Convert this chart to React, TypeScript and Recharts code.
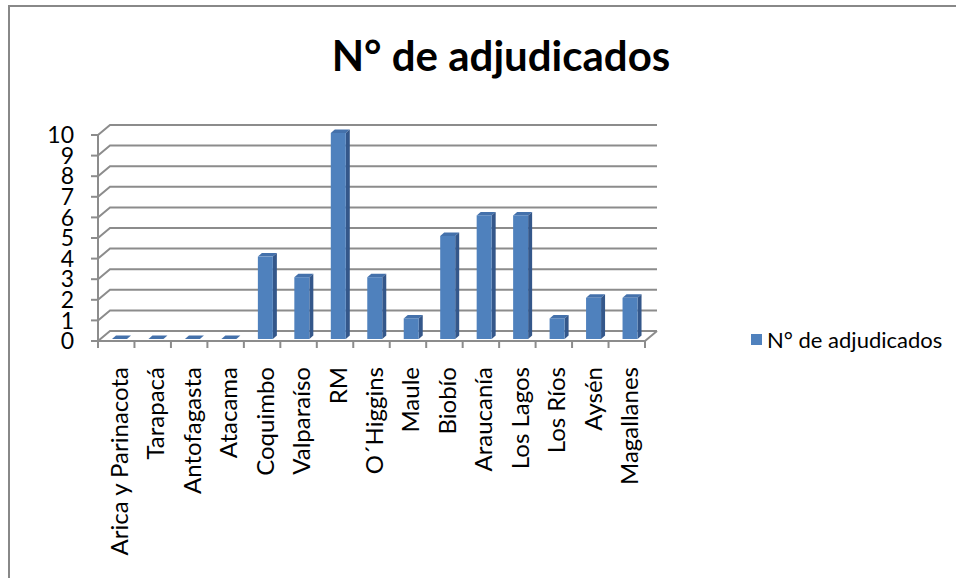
import React from 'react';
import { BarChart, Bar, XAxis, YAxis, CartesianGrid, Legend } from 'recharts';

const categories = [
  'Arica y Parinacota',
  'Tarapacá',
  'Antofagasta',
  'Atacama',
  'Coquimbo',
  'Valparaíso',
  'RM',
  'O´Higgins',
  'Maule',
  'Biobío',
  'Araucanía',
  'Los Lagos',
  'Los Ríos',
  'Aysén',
  'Magallanes',
];
const adjudicados = [0, 0, 0, 0, 4, 3, 10, 3, 1, 5, 6, 6, 1, 2, 2];
const yTicks = [0, 1, 2, 3, 4, 5, 6, 7, 8, 9, 10];
const seriesName = 'N° de adjudicados';

const data = categories.map((region, i) => ({ region, value: adjudicados[i] }));

const FONT = 'Lato, "DejaVu Sans", sans-serif';
const GRID = '#8c8c8c';
// depth of the walls and of the bars (pseudo 3D)
const WALL_DX = 12;
const WALL_DY = 10;
const BAR_DX = 4;
const BAR_DY = 3.5;

function Bar3D(props: any) {
  const { x, y, width, height } = props;
  const fx = x + 3;
  const fy = y - 2;
  const h = Math.max(height, 0);
  return (
    <g>
      <polygon
        points={`${fx},${fy} ${fx + BAR_DX},${fy - BAR_DY} ${fx + width + BAR_DX},${fy - BAR_DY} ${fx + width},${fy}`}
        fill="#4471ab"
      />
      <polygon
        points={`${fx + width},${fy} ${fx + width + BAR_DX},${fy - BAR_DY} ${fx + width + BAR_DX},${fy + h - BAR_DY} ${fx + width},${fy + h}`}
        fill="#34578a"
      />
      {h > 0 && <rect x={fx} y={fy} width={width} height={h} fill="#4f81bd" />}
    </g>
  );
}

function GridLine(p: any) {
  const { x1, y1, x2 } = p;
  const bottom = p.y !== undefined && p.height !== undefined ? p.y + p.height : null;
  const isFloor = bottom !== null ? Math.abs(y1 - bottom) < 0.5 : p.index === 0;
  return (
    <g key={p.key}>
      <polyline
        points={`${x1},${y1} ${x1 + WALL_DX},${y1 - WALL_DY} ${x2 + WALL_DX},${y1 - WALL_DY}`}
        fill="none"
        stroke={GRID}
        strokeWidth={2}
      />
      {isFloor && (
        <line x1={x2} y1={y1} x2={x2 + WALL_DX} y2={y1 - WALL_DY} stroke={GRID} strokeWidth={2} />
      )}
    </g>
  );
}

function CategoryTick(props: any) {
  const { x, y, payload, index } = props;
  const half = payload && payload.offset ? payload.offset : 18.25;
  const last = index === categories.length - 1;
  return (
    <g>
      <line x1={x - half} y1={y} x2={x - half} y2={y + 7} stroke={GRID} strokeWidth={2} />
      {last && <line x1={x + half} y1={y} x2={x + half} y2={y + 7} stroke={GRID} strokeWidth={2} />}
      <text
        x={x + 2}
        y={y + 26}
        transform={`rotate(-90, ${x + 2}, ${y + 26})`}
        textAnchor="end"
        dominantBaseline="central"
        fontFamily={FONT}
        fontSize={24}
        fill="#000"
      >
        {payload.value}
      </text>
    </g>
  );
}

function LegendBox() {
  return (
    <div style={{ display: 'flex', alignItems: 'center', fontFamily: FONT, fontSize: 22, color: '#000' }}>
      <span style={{ width: 11, height: 11, background: '#4f81bd', marginRight: 5, display: 'inline-block' }} />
      <span>{seriesName}</span>
    </div>
  );
}

export default function App() {
  return (
    <div style={{ position: 'absolute', left: 0, top: 0, width: 956, height: 578, background: '#fff' }}>
      <div
        style={{
          position: 'absolute',
          left: 8,
          top: 5,
          width: 948,
          height: 573,
          borderTop: '2px solid #888',
          borderLeft: '2px solid #888',
          boxSizing: 'border-box',
        }}
      />
      <div
        style={{
          position: 'absolute',
          left: 0,
          width: 1002,
          top: 30,
          textAlign: 'center',
          fontFamily: FONT,
          fontWeight: 'bold',
          fontSize: 42,
          lineHeight: '50px',
          color: '#000',
        }}
      >
        {seriesName}
      </div>
      <BarChart
        width={956}
        height={578}
        data={data}
        margin={{ top: 135, right: 311, bottom: 0, left: 0 }}
        style={{ position: 'absolute', left: 0, top: 0 }}
      >
        <CartesianGrid vertical={false} horizontal={GridLine} />
        <XAxis
          dataKey="region"
          type="category"
          interval={0}
          height={237}
          tickSize={0}
          tickMargin={0}
          tickLine={false}
          axisLine={{ stroke: GRID, strokeWidth: 2 }}
          tick={<CategoryTick />}
        />
        <YAxis
          type="number"
          domain={[0, 10]}
          ticks={yTicks}
          interval={0}
          width={98}
          tickSize={7}
          tickMargin={17}
          axisLine={{ stroke: GRID, strokeWidth: 2 }}
          tickLine={{ stroke: GRID, strokeWidth: 2 }}
          tick={{ fill: '#000', fontFamily: FONT, fontSize: 23 }}
        />
        <Legend
          layout="vertical"
          verticalAlign="middle"
          align="center"
          content={<LegendBox />}
          wrapperStyle={{ position: 'absolute', left: 751, top: 326, width: 200 }}
        />
        <Bar dataKey="value" name={seriesName} barSize={15} shape={<Bar3D />} isAnimationActive={false} />
      </BarChart>
    </div>
  );
}
